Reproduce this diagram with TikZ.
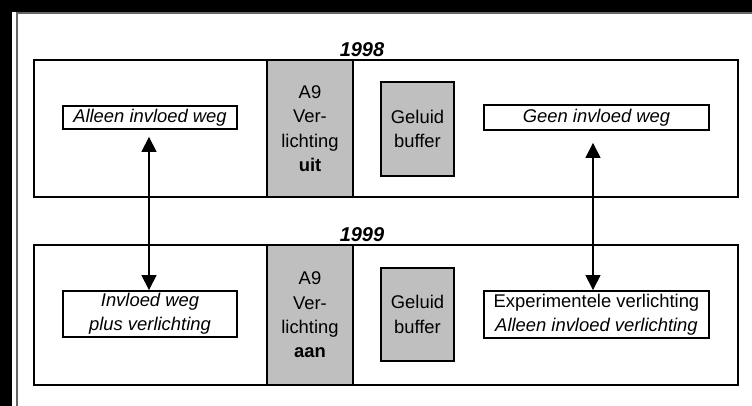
\documentclass[tikz,border=0pt]{standalone}
\usepackage{fontspec}
\setmainfont{Liberation Sans}
\usetikzlibrary{arrows.meta}

\begin{document}
\begin{tikzpicture}[x=0.5pt, y=0.5pt,
	every node/.style={font=\fontsize{9.2}{12.2}\selectfont, align=center, inner sep=0pt},
	txtbox/.style={draw, line width=0.9pt, fill=white},
	graybox/.style={draw, line width=1.1pt, fill=black!25},
	yearlbl/.style={font=\fontsize{10}{12}\selectfont\bfseries\itshape},
	link/.style={{Triangle[length=7.5pt,width=7.5pt]}-{Triangle[length=7.5pt,width=7.5pt]}, line width=0.6pt}]
		\useasboundingbox (0,0) rectangle (752,406);
		\fill[black] (0,394) rectangle (752,406);
		\fill[black] (0,0) rectangle (12,406);
		\draw[black!60, line width=0.8pt] (17,0) -- (17,393) -- (752,393);

		\node[yearlbl] (y98) at (362,356) {1998};
		\draw[line width=1pt] (34,346) rectangle (738,209);
		\node[graybox, minimum width=43pt, minimum height=68.5pt] (col98) at (310,277.5) {A9\\Ver-\\lichting\\\textbf{uit}};
		\node[graybox, minimum width=36.5pt, minimum height=47pt] (buf98) at (417.5,277) {Geluid\\buffer};
		\node[txtbox, minimum width=87pt, minimum height=11.5pt] (weg98) at (150,288.5) {\itshape Alleen invloed weg};
		\node[txtbox, minimum width=112.5pt, minimum height=12.5pt] (geen98) at (596.5,288.5) {\itshape Geen invloed weg};

		\node[yearlbl] (y99) at (362,171) {1999};
		\draw[line width=1pt] (34,161) rectangle (738,21);
		\node[graybox, minimum width=43pt, minimum height=70pt] (col99) at (310,91) {A9\\Ver-\\lichting\\\textbf{aan}};
		\node[graybox, minimum width=36.5pt, minimum height=46.5pt] (buf99) at (417.5,91.5) {Geluid\\buffer};
		\node[txtbox, minimum width=87pt, minimum height=23pt] (weg99) at (150,92) {\itshape Invloed weg\\\itshape plus verlichting};
		\node[txtbox, minimum width=112.5pt, minimum height=23.5pt] (exp99) at (596.5,91.5) {Experimentele verlichting\\\itshape Alleen invloed verlichting};

		\draw[link, shorten >=3.5pt] (149,0 |- weg99.north) -- (149,0 |- weg98.south);
		\draw[link, shorten >=6pt] (593,0 |- exp99.north) -- (593,0 |- geen98.south);
	\end{tikzpicture}
\end{document}
